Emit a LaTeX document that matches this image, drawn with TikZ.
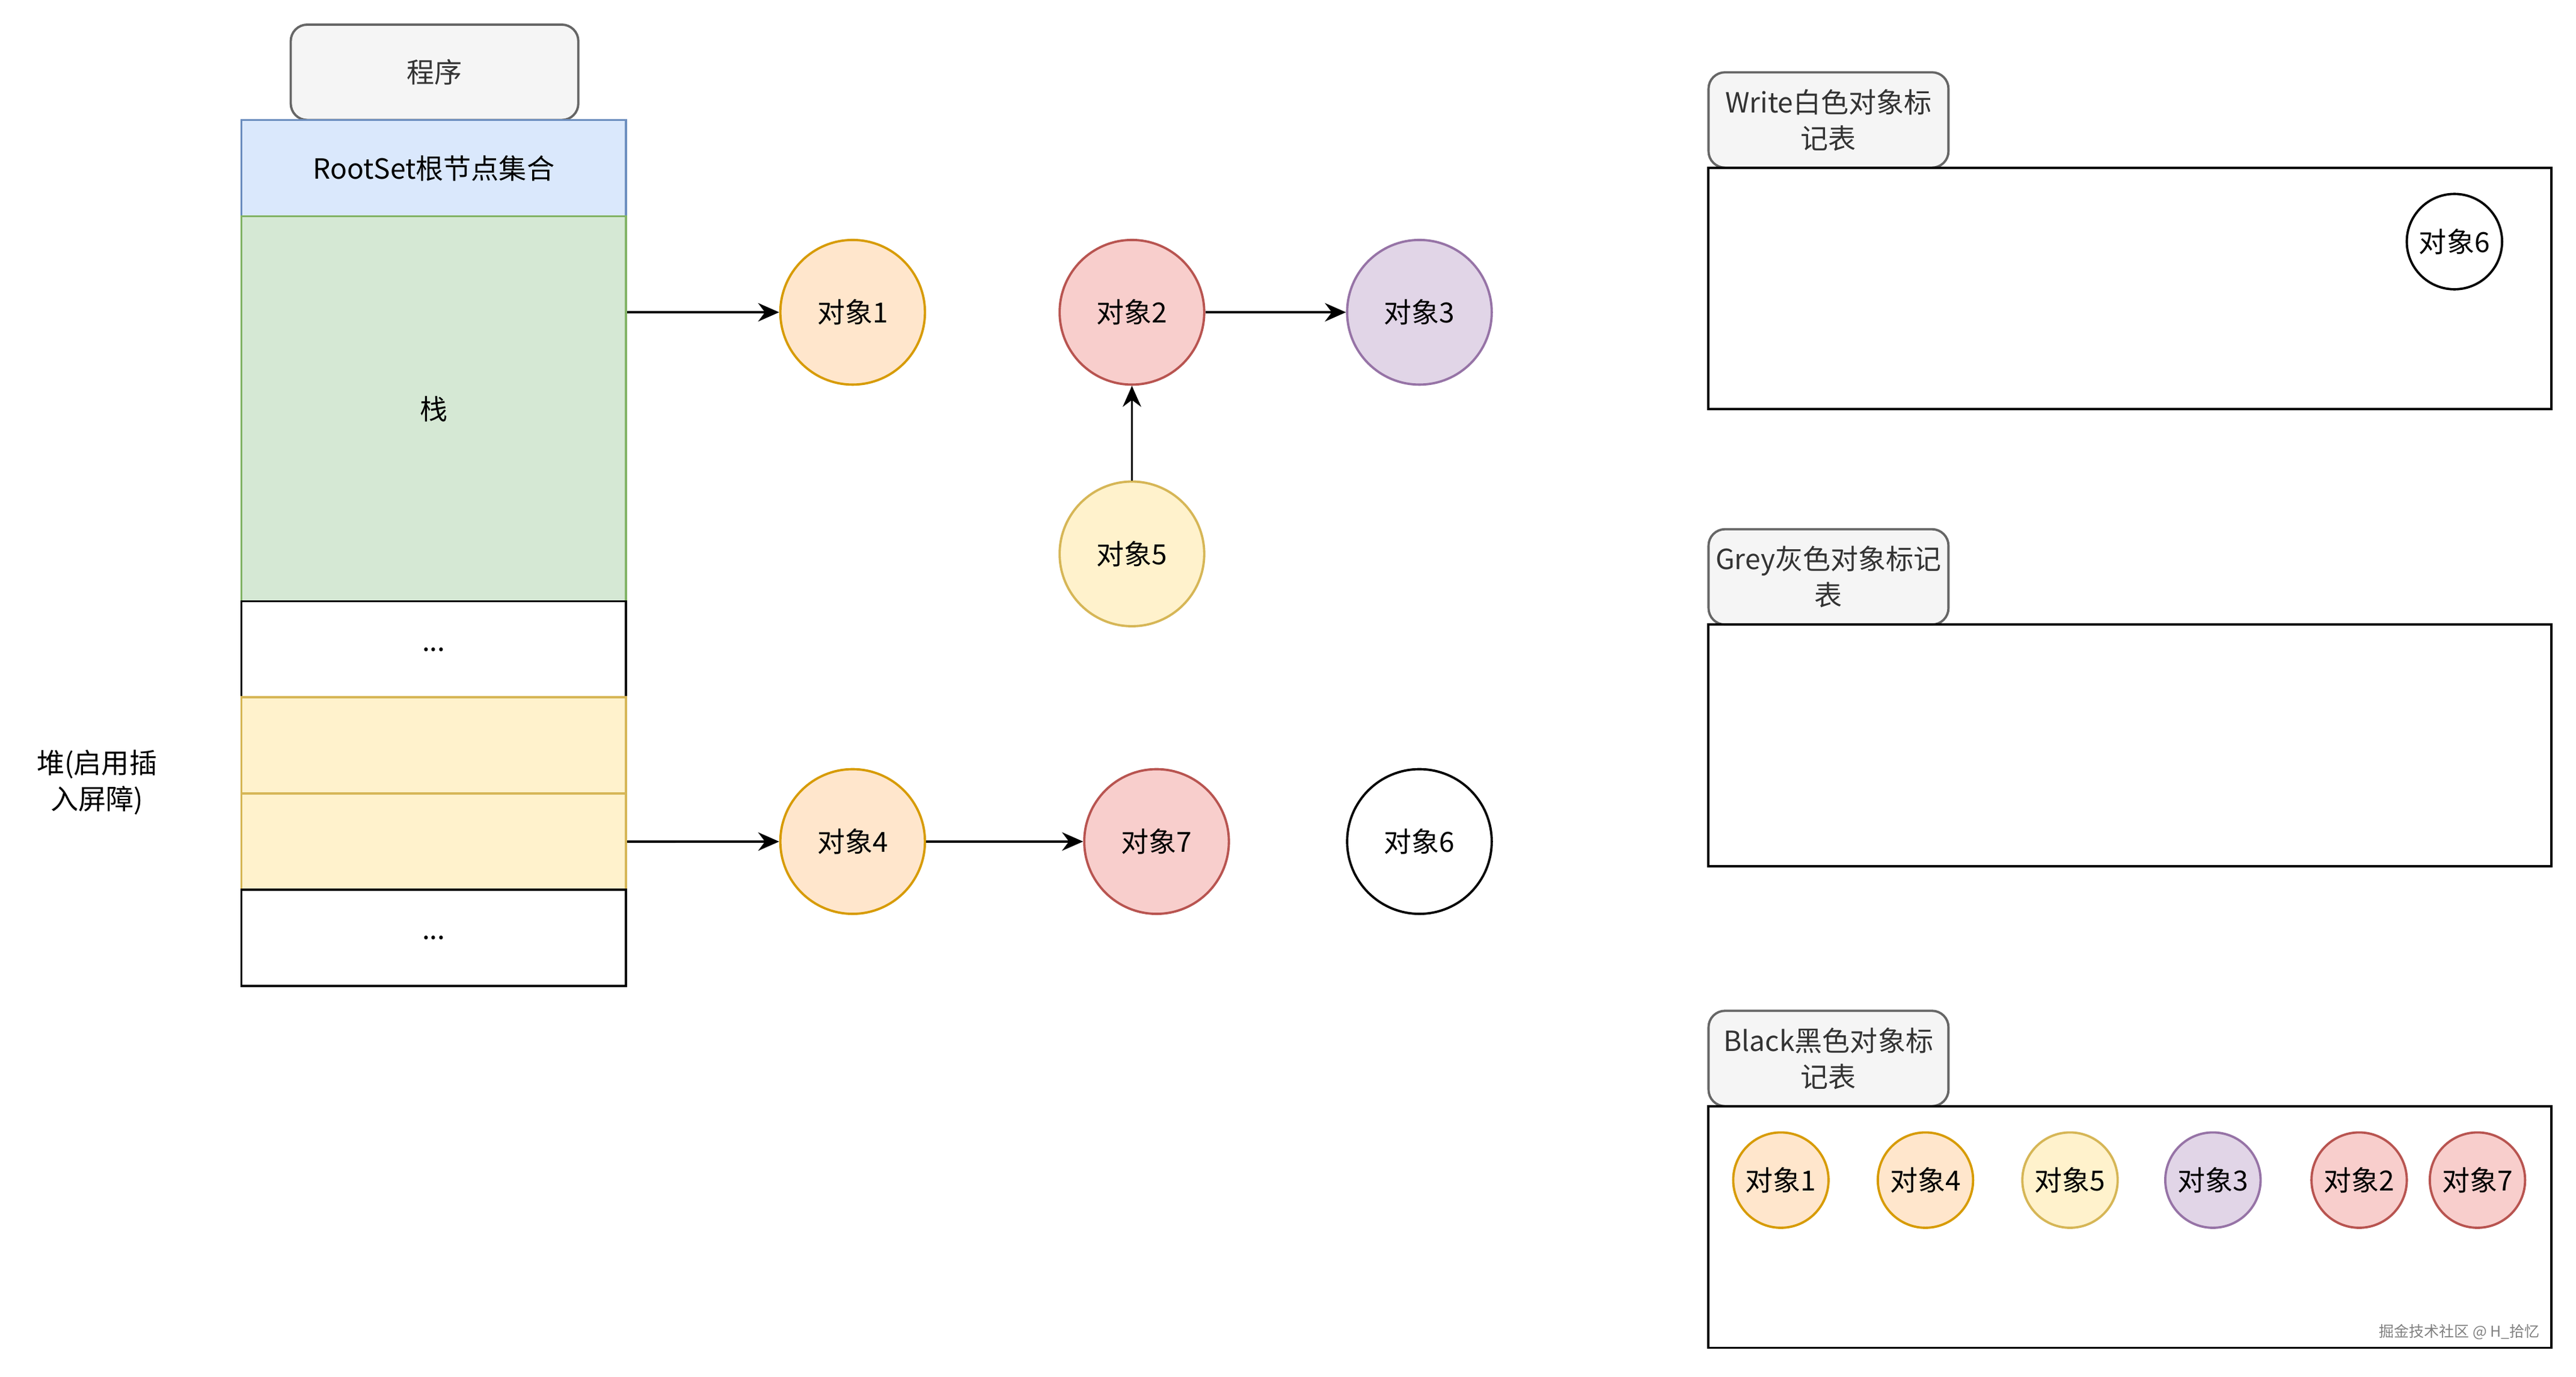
\documentclass[tikz,border=0pt]{standalone}
\usepackage{fontspec}
\setmainfont{Noto Sans CJK SC}
\usepackage{xcolor}
\usetikzlibrary{arrows.meta}

\definecolor{tagfill}{HTML}{F5F5F5}
\definecolor{tagline}{HTML}{666666}
\definecolor{tagtext}{HTML}{333333}
\definecolor{rootfill}{HTML}{DAE8FC}
\definecolor{rootline}{HTML}{6C8EBF}
\definecolor{stackfill}{HTML}{D5E8D4}
\definecolor{stackline}{HTML}{82B366}
\definecolor{heapfill}{HTML}{FFF2CC}
\definecolor{heapline}{HTML}{D6B656}
\definecolor{orangefill}{HTML}{FFE6CC}
\definecolor{orangeline}{HTML}{D79B00}
\definecolor{redfill}{HTML}{F8CECC}
\definecolor{redline}{HTML}{B85450}
\definecolor{purplefill}{HTML}{E1D5E7}
\definecolor{purpleline}{HTML}{9673A6}

\begin{document}
\begin{tikzpicture}[x=0.025cm, y=-0.025cm, line width=1pt,
	font=\fontsize{12}{15.6}\selectfont,
	>={Stealth[length=3.2mm, width=2.8mm]},
	tag/.style={draw=tagline, fill=tagfill, text=tagtext, rounded corners=2.5mm, minimum width=3.65cm, minimum height=1.45cm, align=center, inner sep=1pt},
	cell/.style={draw, fill=white, minimum width=5.85cm, minimum height=1.464cm},
	obj/.style={circle, draw, fill=white, minimum size=2.2cm, inner sep=0pt},
	mini/.style={circle, draw, fill=white, minimum size=1.45cm, inner sep=0pt},
	marktable/.style={draw, minimum width=12.825cm, minimum height=3.675cm},
	objorange/.style={fill=orangefill, draw=orangeline},
	objred/.style={fill=redfill, draw=redline},
	objpurple/.style={fill=purplefill, draw=purpleline},
	objyellow/.style={fill=heapfill, draw=heapline}]

		\useasboundingbox (0,0) rectangle (1568,837.5);

		% program and root set
		\node[tag, minimum width=4.375cm] (prog) at (264.5,44) {程序};
		\node[cell, fill=rootfill, draw=rootline] (root) at (264,102.3) {RootSet根节点集合};

		% memory column
		\node[cell, fill=stackfill, draw=stackline, minimum height=5.855cm] (stack) at (264,248.7) {栈};
		\node[cell] (dotsa) at (264,395.1) {...};
		\node[cell, fill=heapfill, draw=heapline] (heapa) at (264,453.6) {};
		\node[cell, fill=heapfill, draw=heapline] (heapb) at (264,512.1) {};
		\node[cell] (dotsb) at (264,570.7) {...};
		\node[align=center] (heaplabel) at (59,476) {堆(启用插\\入屏障)};

		% objects
		\node[obj, objorange] (o1) at (519,190) {对象1};
		\node[obj, objred] (o2) at (689,190) {对象2};
		\node[obj, objpurple] (o3) at (864,190) {对象3};
		\node[obj, objyellow] (o5) at (689,337) {对象5};
		\node[obj, objorange] (o4) at (519,512) {对象4};
		\node[obj, objred] (o7) at (704,512) {对象7};
		\node[obj] (o6) at (864,512) {对象6};

		\draw[->] (stack.east |- o1) -- (o1);
		\draw[->] (o2) -- (o3);
		\draw[->] (o5) -- (o2);
		\draw[->] (heapb.east) -- (o4);
		\draw[->] (o4) -- (o7);

		% white table
		\node[tag] (whitetag) at (1113,73) {Write白色对象标\\记表};
		\node[marktable] (whitetab) at (1296.5,175.5) {};
		\node[mini] (w6) at (1494,147) {对象6};

		% grey table
		\node[tag] (greytag) at (1113,351) {Grey灰色对象标记\\表};
		\node[marktable] (greytab) at (1296.5,453.5) {};

		% black table
		\node[tag] (blacktag) at (1113,644) {Black黑色对象标\\记表};
		\node[marktable] (blacktab) at (1296.5,746.5) {};
		\node[mini, objorange] (b1) at (1084,718) {对象1};
		\node[mini, objorange] (b4) at (1172,718) {对象4};
		\node[mini, objyellow] (b5) at (1260,718) {对象5};
		\node[mini, objpurple] (b3) at (1347,718) {对象3};
		\node[mini, objred] (b2) at (1436,718) {对象2};
		\node[mini, objred] (b7) at (1508,718) {对象7};

		\node[anchor=south east, text=gray, font=\fontsize{6.5}{7}\selectfont, inner sep=1pt] (mark) at (1548,817) {掘金技术社区 @ H\_拾忆};
	\end{tikzpicture}
\end{document}
